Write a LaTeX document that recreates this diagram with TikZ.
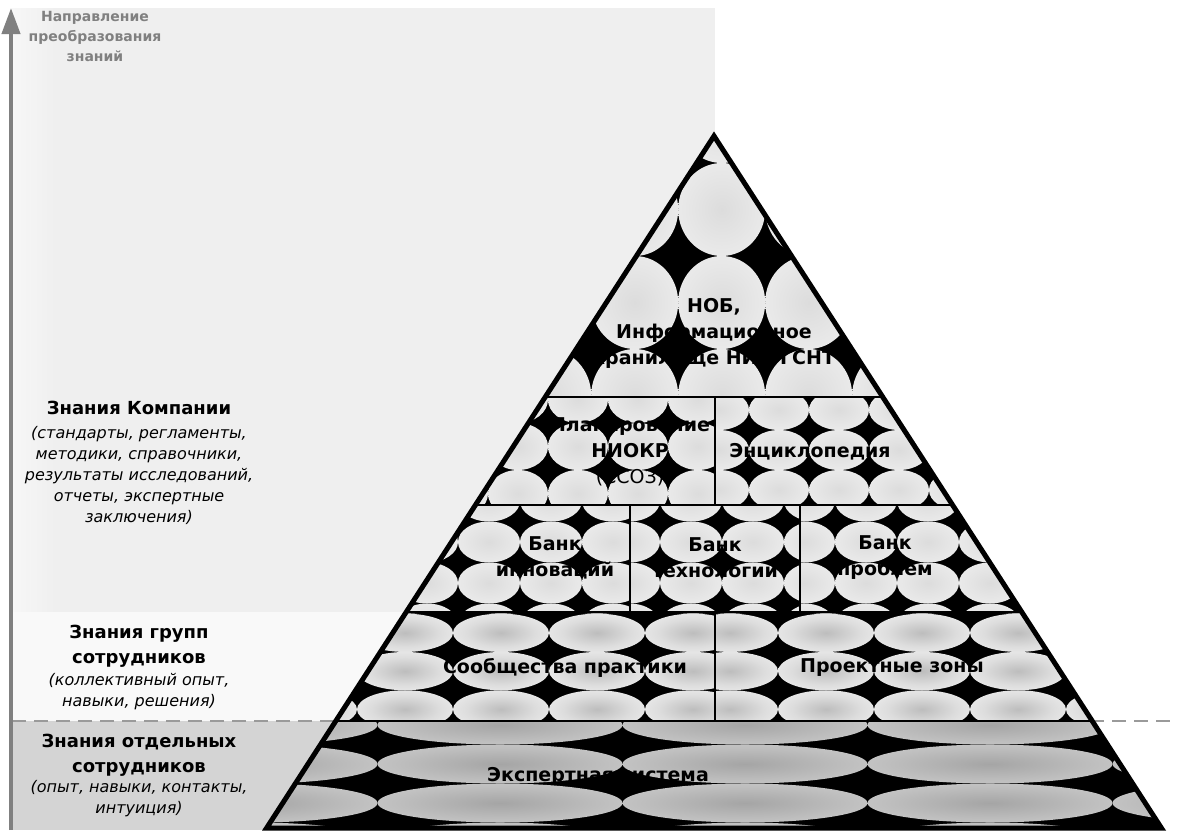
\documentclass[tikz,border=0pt]{standalone}
\usepackage{fontspec}
\setmainfont{DejaVu Sans}[BoldFont={DejaVu Sans Bold},ItalicFont={DejaVu Sans Oblique},BoldItalicFont={DejaVu Sans Bold Oblique}]
\usetikzlibrary{arrows.meta}
\definecolor{boxA}{HTML}{EFEFEF}
\definecolor{boxAl}{HTML}{F7F7F7}
\definecolor{boxB}{HTML}{F9F9F9}
\definecolor{boxC}{HTML}{D4D4D4}
\definecolor{arrowgray}{HTML}{808080}
\definecolor{dashgray}{HTML}{9A9A9A}
\definecolor{gAin}{HTML}{DCDCDC}
\definecolor{gAmid}{HTML}{E7E7E7}
\definecolor{gAout}{HTML}{F3F3F3}
\definecolor{gBin}{HTML}{BDBDBD}
\definecolor{gBmid}{HTML}{DDDDDD}
\definecolor{gBout}{HTML}{FCFCFC}
\definecolor{gCin}{HTML}{A5A5A5}
\definecolor{gCmid}{HTML}{BDBDBD}
\definecolor{gCout}{HTML}{D8D8D8}
\pgfdeclareradialshading{glowA}{\pgfpoint{0bp}{0bp}}{color(0bp)=(gAin);color(20bp)=(gAmid);color(44bp)=(gAout);color(50bp)=(gAout)}
\pgfdeclareradialshading{glowB}{\pgfpoint{0bp}{0bp}}{color(0bp)=(gBin);color(18bp)=(gBmid);color(44bp)=(gBout);color(50bp)=(gBout)}
\pgfdeclareradialshading{glowC}{\pgfpoint{0bp}{0bp}}{color(0bp)=(gCin);color(20bp)=(gCmid);color(44bp)=(gCout);color(50bp)=(gCout)}
% #1 shading, #2 x0, #3 y0, #4 dx, #5 dy, #6 k list, #7 j list
\newcommand\mytiles[7]{\foreach \k in {#6}{\foreach \j in {#7}{\shade[shading=#1] ({#2+#4*\k},{#3+#5*\j}) ellipse ({#4/2*1pt} and {#5/2*1pt});}}}
\begin{document}
\begin{tikzpicture}[x=1pt,y=-1pt,
  ptxt/.style={font=\bfseries\fontsize{19}{26}\selectfont,align=center,inner sep=0pt,text=black},
  lhead/.style={font=\bfseries\fontsize{18}{25}\selectfont,align=center,inner sep=0pt,text=black},
  ldesc/.style={font=\itshape\fontsize{16}{21}\selectfont,align=center,inner sep=0pt,text=black},
  cellline/.style={black,line width=1.6pt},
  band/.style={black,line width=1.6pt,line join=miter}]
\useasboundingbox (0,0) rectangle (1177,830);
\fill[white] (0,0) rectangle (1177,830);
% left background
\fill[boxA] (12,8) rectangle (715,612);
\shade[left color=boxAl,right color=boxA] (12,8) rectangle (55,612);
\fill[boxB] (12,612) rectangle (715,721);
\fill[boxC] (12,721) rectangle (715,830);
\coordinate (dashS) at (12,721);
\coordinate (dashE) at (1177,721);
\draw[dashgray,line width=1.8pt,dash pattern=on 14pt off 8pt] (dashS) -- (dashE);
% pyramid corners
\coordinate (A) at (714,136);
\coordinate (L1) at (545.2,397); \coordinate (R1) at (882.8,397);
\coordinate (L2) at (475.4,505); \coordinate (R2) at (952.6,505);
\coordinate (L3) at (406.2,612); \coordinate (R3) at (1021.8,612);
\coordinate (L4) at (335.7,721); \coordinate (R4) at (1092.3,721);
\coordinate (L5) at (266.6,828); \coordinate (R5) at (1161.4,828);
% band 1
\begin{scope}
\clip (A) -- (R1) -- (L1) -- cycle;
\fill[black] (A) -- (R1) -- (L1) -- cycle;
\mytiles{glowA}{721.7}{116.5}{87}{93}{-3,...,3}{0,...,3}
\end{scope}
% band 2a
\begin{scope}
\clip (L1) -- (715,397) -- (715,505) -- (L2) -- cycle;
\fill[black] (L1) -- (715,397) -- (715,505) -- (L2) -- cycle;
\mytiles{glowA}{638}{446.5}{60}{47}{-3,...,2}{-1,...,1}
\end{scope}
% band 2b
\begin{scope}
\clip (715,397) -- (R1) -- (R2) -- (715,505) -- cycle;
\fill[black] (715,397) -- (R1) -- (R2) -- (715,505) -- cycle;
\mytiles{glowA}{779}{450}{60}{40}{-1,...,3}{-1,...,1}
\end{scope}
% band 3a
\begin{scope}
\clip (L2) -- (630,505) -- (630,612) -- (L3) -- cycle;
\fill[black] (L2) -- (630,505) -- (630,612) -- (L3) -- cycle;
\mytiles{glowA}{551}{501}{62}{41}{-3,...,2}{0,...,3}
\end{scope}
% band 3b
\begin{scope}
\clip (630,505) -- (800,505) -- (800,612) -- (630,612) -- cycle;
\fill[black] (630,505) -- (800,505) -- (800,612) -- (630,612) -- cycle;
\mytiles{glowA}{691}{501}{62}{41}{-1,...,2}{0,...,3}
\end{scope}
% band 3c
\begin{scope}
\clip (800,505) -- (R2) -- (R3) -- (800,612) -- cycle;
\fill[black] (800,505) -- (R2) -- (R3) -- (800,612) -- cycle;
\mytiles{glowA}{866}{501}{62}{41}{-2,...,3}{0,...,3}
\end{scope}
% band 4a
\begin{scope}
\clip (L3) -- (715,612) -- (715,721) -- (L4) -- cycle;
\fill[black] (L3) -- (715,612) -- (715,721) -- (L4) -- cycle;
\mytiles{glowB}{405}{632.8}{96}{38.3}{-1,...,3}{-1,...,2}
\end{scope}
% band 4b
\begin{scope}
\clip (715,612) -- (R3) -- (R4) -- (715,721) -- cycle;
\fill[black] (715,612) -- (R3) -- (R4) -- (715,721) -- cycle;
\mytiles{glowB}{730}{632.8}{96}{38.3}{0,...,4}{-1,...,2}
\end{scope}
% band 5
\begin{scope}
\clip (L4) -- (R4) -- (R5) -- (L5) -- cycle;
\fill[black] (L4) -- (R4) -- (R5) -- (L5) -- cycle;
\mytiles{glowC}{500}{725}{245}{39}{-1,...,3}{-1,...,3}
\end{scope}
% cell outlines
\draw[band] (A) -- (R1) -- (L1) -- cycle;
\draw[band] (L1) -- (R1) -- (R2) -- (L2) -- cycle;
\draw[band] (L2) -- (R2) -- (R3) -- (L3) -- cycle;
\draw[band] (L3) -- (R3) -- (R4) -- (L4) -- cycle;
\draw[band] (L4) -- (R4) -- (R5) -- (L5) -- cycle;
\coordinate (d2t) at (715,397); \coordinate (d2b) at (715,505);
\coordinate (d3at) at (630,505); \coordinate (d3ab) at (630,612);
\coordinate (d3bt) at (800,505); \coordinate (d3bb) at (800,612);
\coordinate (d4t) at (715,612); \coordinate (d4b) at (715,721);
\draw[cellline] (d2t) -- (d2b);
\draw[cellline] (d3at) -- (d3ab);
\draw[cellline] (d3bt) -- (d3bb);
\draw[cellline] (d4t) -- (d4b);
% outer outline
\draw[black,line width=5pt,line join=miter] (A) -- (R5) -- (L5) -- cycle;
% pyramid texts
\node[ptxt] (nob) at (714,333) {НОБ,\\Информационное\\хранилище НИИ ГСНТ};
\node[ptxt] (plan) at (630,452) {Планирование\\НИОКР\\{\mdseries (ССОЗ)}};
\node[ptxt] (enc) at (810,452) {Энциклопедия};
\node[ptxt] (bank1) at (555,558) {Банк\\инноваций};
\node[ptxt] (bank2) at (715,558) {Банк\\технологий};
\node[ptxt] (bank3) at (885,558) {Банк\\проблем};
\node[ptxt] (soob) at (565,668) {Сообщества практики};
\node[ptxt] (proj) at (892,668) {Проектные зоны};
\node[ptxt] (exp) at (598,776) {Экспертная система};
% left texts
\node[font=\bfseries\fontsize{14}{20}\selectfont,align=center,inner sep=0pt,text=arrowgray] (dir) at (95,36) {Направление\\преобразования\\знаний};
\node[lhead] (h1) at (139,408) {Знания Компании};
\node[ldesc] (d1) at (139,475) {(стандарты, регламенты,\\методики, справочники,\\результаты исследований,\\отчеты, экспертные\\заключения)};
\node[lhead] (h2) at (139,646) {Знания групп\\сотрудников};
\node[ldesc] (d2) at (139,692) {(коллективный опыт,\\навыки, решения)};
\node[lhead] (h3) at (139,755) {Знания отдельных\\сотрудников};
\node[ldesc] (d3) at (139,799) {(опыт, навыки, контакты,\\интуиция)};
% arrow
\coordinate (arrS) at (11,830);
\coordinate (arrE) at (11,8);
\draw[arrowgray,line width=4pt,-{Triangle[length=26pt,width=18pt]}] (arrS) -- (arrE);
\end{tikzpicture}
\end{document}
